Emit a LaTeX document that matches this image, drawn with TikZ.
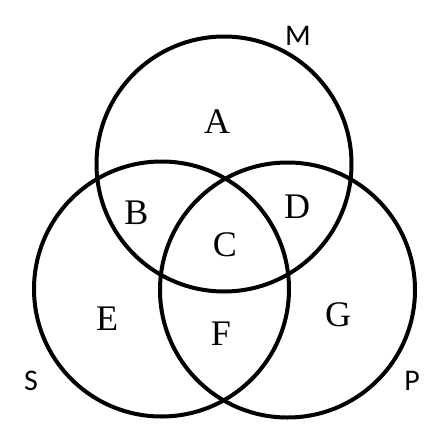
\documentclass[tikz,border=0pt]{standalone}
\usepackage{fontspec}
\setmainfont{Liberation Serif}
\newfontfamily\lblfont{Carlito}
\begin{document}
\begin{tikzpicture}[x=1pt,y=-1pt,
  ring/.style={draw=black,line width=4pt},
  region/.style={inner sep=0pt,font=\fontsize{36}{36}\selectfont},
  setlabel/.style={inner sep=0pt,font=\lblfont\fontsize{30}{30}\selectfont}]
\useasboundingbox (0,0) rectangle (448,448);
\node[ring,circle,minimum size=255pt,inner sep=0pt] (M) at (224,164) {};
\node[ring,circle,minimum size=255pt,inner sep=0pt] (S) at (161.5,289) {};
\node[ring,circle,minimum size=255pt,inner sep=0pt] (P) at (287.5,290) {};
\node[region] (a) at (217,122) {A};
\node[region] (b) at (136.5,213) {B};
\node[region] (c) at (225,245) {C};
\node[region] (d) at (297,207) {D};
\node[region] (e) at (107,319) {E};
\node[region] (f) at (221,334) {F};
\node[region] (g) at (338,315) {G};
\node[setlabel] (lm) at (298,35.5) {M};
\node[setlabel] (ls) at (31,381) {S};
\node[setlabel] (lp) at (412,381) {P};
\end{tikzpicture}
\end{document}
